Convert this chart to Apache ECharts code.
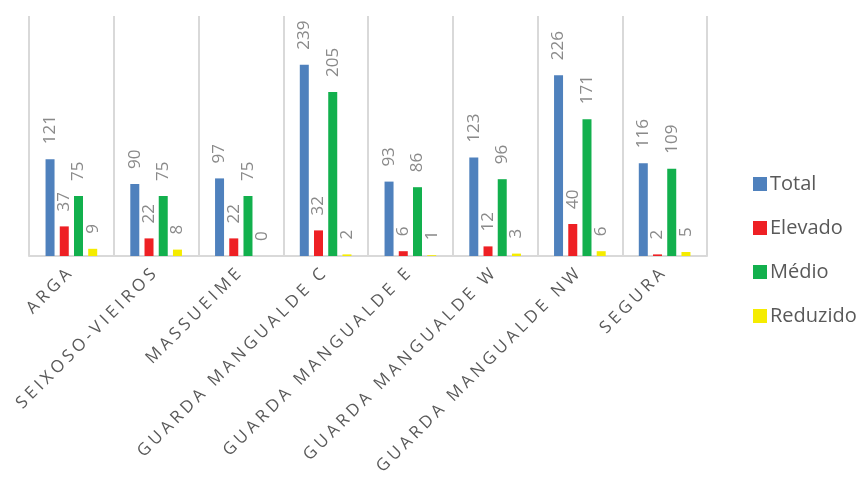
<!DOCTYPE html>
<html><head><meta charset="utf-8">
<script src="https://cdn.jsdelivr.net/npm/echarts@6/dist/echarts.min.js"></script>
<style>html,body{margin:0;padding:0;background:#fff}#c{width:859px;height:488px}</style>
</head><body><div id="c"></div>
<script>
const categories = ['ARGA','SEIXOSO-VIEIROS','MASSUEIME','GUARDA MANGUALDE C','GUARDA MANGUALDE E','GUARDA MANGUALDE W','GUARDA MANGUALDE NW','SEGURA'];
const total    = [121, 90, 97, 239, 93, 123, 226, 116];
const elevado  = [37, 22, 22, 32, 6, 12, 40, 2];
const medio    = [75, 75, 75, 205, 86, 96, 171, 109];
const reduzido = [9, 8, 0, 2, 1, 3, 6, 5];
const seriesNames = ['Total','Elevado','Médio','Reduzido'];
const colors = ['#4f81bd','#ee2024','#12b04d','#f5ec00'];

// Letter-spacing for the category labels (font family string used only by them)
const AXIS_FONT = 'Open Sans, Noto Sans';
(function () {
  try {
    const proto = CanvasRenderingContext2D.prototype;
    const desc = Object.getOwnPropertyDescriptor(proto, 'font');
    if (desc && 'letterSpacing' in proto) {
      Object.defineProperty(proto, 'font', {
        configurable: true,
        get() { return desc.get.call(this); },
        set(v) {
          desc.set.call(this, v);
          this.letterSpacing = (String(v).indexOf('Noto Sans') >= 0) ? '3.8px' : '0px';
        }
      });
    }
  } catch (e) {}
})();

const font = 'Open Sans';
const mk = (name, data, color) => ({
  name, type: 'bar', data, barWidth: 9, barGap: '58%',
  itemStyle: { color },
  label: { show: true, position: 'top', rotate: 90, align: 'left', verticalAlign: 'middle',
    distance: 15, color: '#8a8a8a', fontSize: 17, fontFamily: font }
});
const chart = echarts.init(document.getElementById('c'), null, {renderer: 'canvas'});
chart.setOption({
  animation: false,
  color: colors,
  legend: {
    orient: 'vertical', left: 748, top: 169, itemWidth: 14, itemHeight: 14, itemGap: 24,
    icon: 'rect', textStyle: { color: '#595959', fontSize: 20, fontFamily: font, padding: [0,0,0,-2] },
    data: seriesNames
  },
  grid: { left: 29, right: 152, top: 16, bottom: 232, containLabel: false },
  xAxis: {
    type: 'category', data: categories,
    axisLine: { lineStyle: { color: '#d9d9d9', width: 2 } },
    axisTick: { show: false },
    splitLine: { show: true, lineStyle: { color: '#d9d9d9', width: 2 } },
    axisLabel: { interval: 0, rotate: 45, margin: 13, color: '#595959', fontSize: 17, fontFamily: AXIS_FONT }
  },
  yAxis: { type: 'value', min: 0, max: 300, show: false, splitLine: { show: false } },
  series: [
    mk(seriesNames[0], total, colors[0]),
    mk(seriesNames[1], elevado, colors[1]),
    mk(seriesNames[2], medio, colors[2]),
    mk(seriesNames[3], reduzido, colors[3])
  ]
});
</script></body></html>
